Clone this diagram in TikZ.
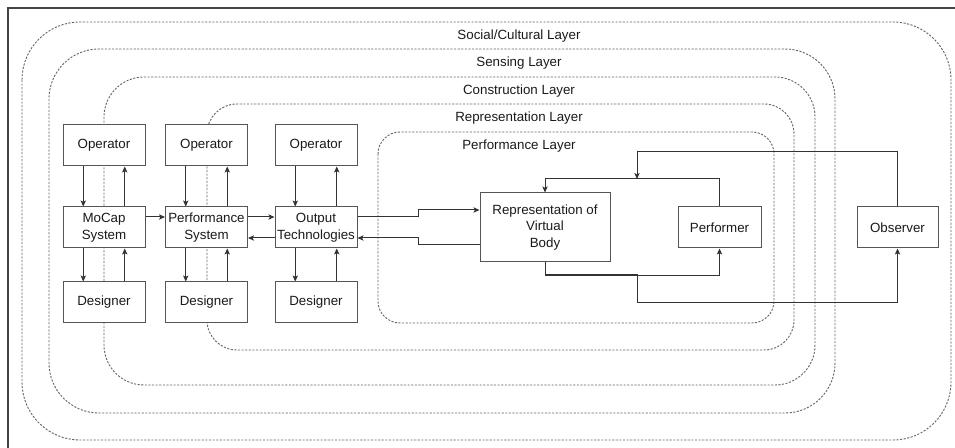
\documentclass[tikz,border=0pt]{standalone}
\usepackage{fontspec}
\setmainfont{Liberation Sans}
\usetikzlibrary{arrows.meta,calc}
\definecolor{layerc}{HTML}{666666}
\definecolor{boxc}{HTML}{555555}
\definecolor{linec}{HTML}{333333}
\definecolor{txtc}{HTML}{1A1A1A}
\definecolor{framec}{HTML}{444444}
\begin{document}
\begin{tikzpicture}[x=0.75pt,y=-0.75pt,
  layer/.style={draw=layerc, line width=0.7pt, dash pattern=on 1.6pt off 1.1pt},
  box/.style={draw=boxc, fill=white, line width=0.75pt, minimum width=61.5pt,
    minimum height=30.75pt, inner sep=1pt, align=center, text=txtc,
    font=\fontsize{10}{12.4}\selectfont},
  lbl/.style={text=txtc, font=\fontsize{10}{12}\selectfont, inner sep=0pt},
  arr/.style={draw=linec, line width=0.75pt,
    -{Stealth[length=4.5pt,width=4pt,inset=1pt]}}]

\useasboundingbox (0,0) rectangle (955,448);
\clip (0,0) rectangle (955,448);

% outer frame
\draw[framec, line width=1pt] (8,8) rectangle (990,480);

% nested layers
\draw[layer, rounded corners=43.5pt] (22,22) rectangle (951,440);
\draw[layer, rounded corners=37.5pt] (49,49) rectangle (835,413);
\draw[layer, rounded corners=30pt] (104,77) rectangle (815,385);
\draw[layer, rounded corners=22.5pt] (207,104) rectangle (794,350);
\draw[layer, rounded corners=16.5pt] (378,132) rectangle (774,323);

\node[lbl] (lsoc) at (519,36) {Social/Cultural Layer};
\node[lbl] (lsen) at (519,63) {Sensing Layer};
\node[lbl] (lcon) at (519,91) {Construction Layer};
\node[lbl] (lrep) at (519,118) {Representation Layer};
\node[lbl] (lper) at (519,146) {Performance Layer};

% operator / system / designer columns
\node[box] (op1) at (104,145.5) {Operator};
\node[box] (op2) at (206.5,145.5) {Operator};
\node[box] (op3) at (316,145.5) {Operator};
\node[box] (sys1) at (104,227.5) {MoCap\\System};
\node[box] (sys2) at (206.5,227.5) {Performance\\System};
\node[box] (sys3) at (316,227.5) {Output\\Technologies};
\node[box] (des1) at (104,302.5) {Designer};
\node[box] (des2) at (206.5,302.5) {Designer};
\node[box] (des3) at (316,302.5) {Designer};

% performance nodes
\node[box, minimum width=97.5pt, minimum height=51.75pt] (rep) at (545,227.5)
  {Representation of\\Virtual\\Body};
\node[box, minimum width=62.25pt] (perf) at (719.5,227.5) {Performer};
\node[box, minimum width=60.75pt] (obs) at (897.5,227.5) {Observer};

% two-way links inside each column
\foreach \c in {1,2,3} {
  \draw[arr] ($(op\c.south west)!.25!(op\c.south east)$) -- ($(sys\c.north west)!.25!(sys\c.north east)$);
  \draw[arr] ($(sys\c.north west)!.75!(sys\c.north east)$) -- ($(op\c.south west)!.75!(op\c.south east)$);
  \draw[arr] ($(sys\c.south west)!.25!(sys\c.south east)$) -- ($(des\c.north west)!.25!(des\c.north east)$);
  \draw[arr] ($(des\c.north west)!.75!(des\c.north east)$) -- ($(sys\c.south west)!.75!(sys\c.south east)$);
}

% pipeline between systems
\coordinate (s1a) at ($(sys1.north east)!.25!(sys1.south east)$);
\coordinate (s2a) at ($(sys2.north east)!.25!(sys2.south east)$);
\coordinate (s3a) at ($(sys3.north east)!.25!(sys3.south east)$);
\coordinate (s3b) at ($(sys3.north east)!.75!(sys3.south east)$);
\draw[arr] (s1a) -- (s1a -| sys2.west);
\draw[arr] (s2a) -- (s2a -| sys3.west);
\draw[arr] (s3b -| sys3.west) -- (s3b -| sys2.east);

% output technologies <-> virtual body
\coordinate (mx) at (418,0);
\coordinate (r1) at ($(rep.north west)!.25!(rep.south west)$);
\coordinate (r2) at ($(rep.north west)!.75!(rep.south west)$);
\draw[arr] (s3a) -- (s3a -| mx) -- (r1 -| mx) -- (r1);
\draw[arr] (r2) -- (r2 -| mx) -- (s3b -| mx) -- (s3b);

% virtual body <-> performer
\draw[arr] (rep.south) -- ++(0,13) -| (perf.south);
\draw[arr] (perf.north) -- ++(0,-28) -| (rep.north);

% observer links
\coordinate (ja) at (637,152);
\coordinate (jb) at (637,179);
\coordinate (jc) at (637,275);
\coordinate (jd) at (637,303);
\draw[arr] (obs.north) |- (ja) -- (jb);
\draw[arr] (rep.south) |- (jc) -- (jd) -| (obs.south);
\end{tikzpicture}
\end{document}
